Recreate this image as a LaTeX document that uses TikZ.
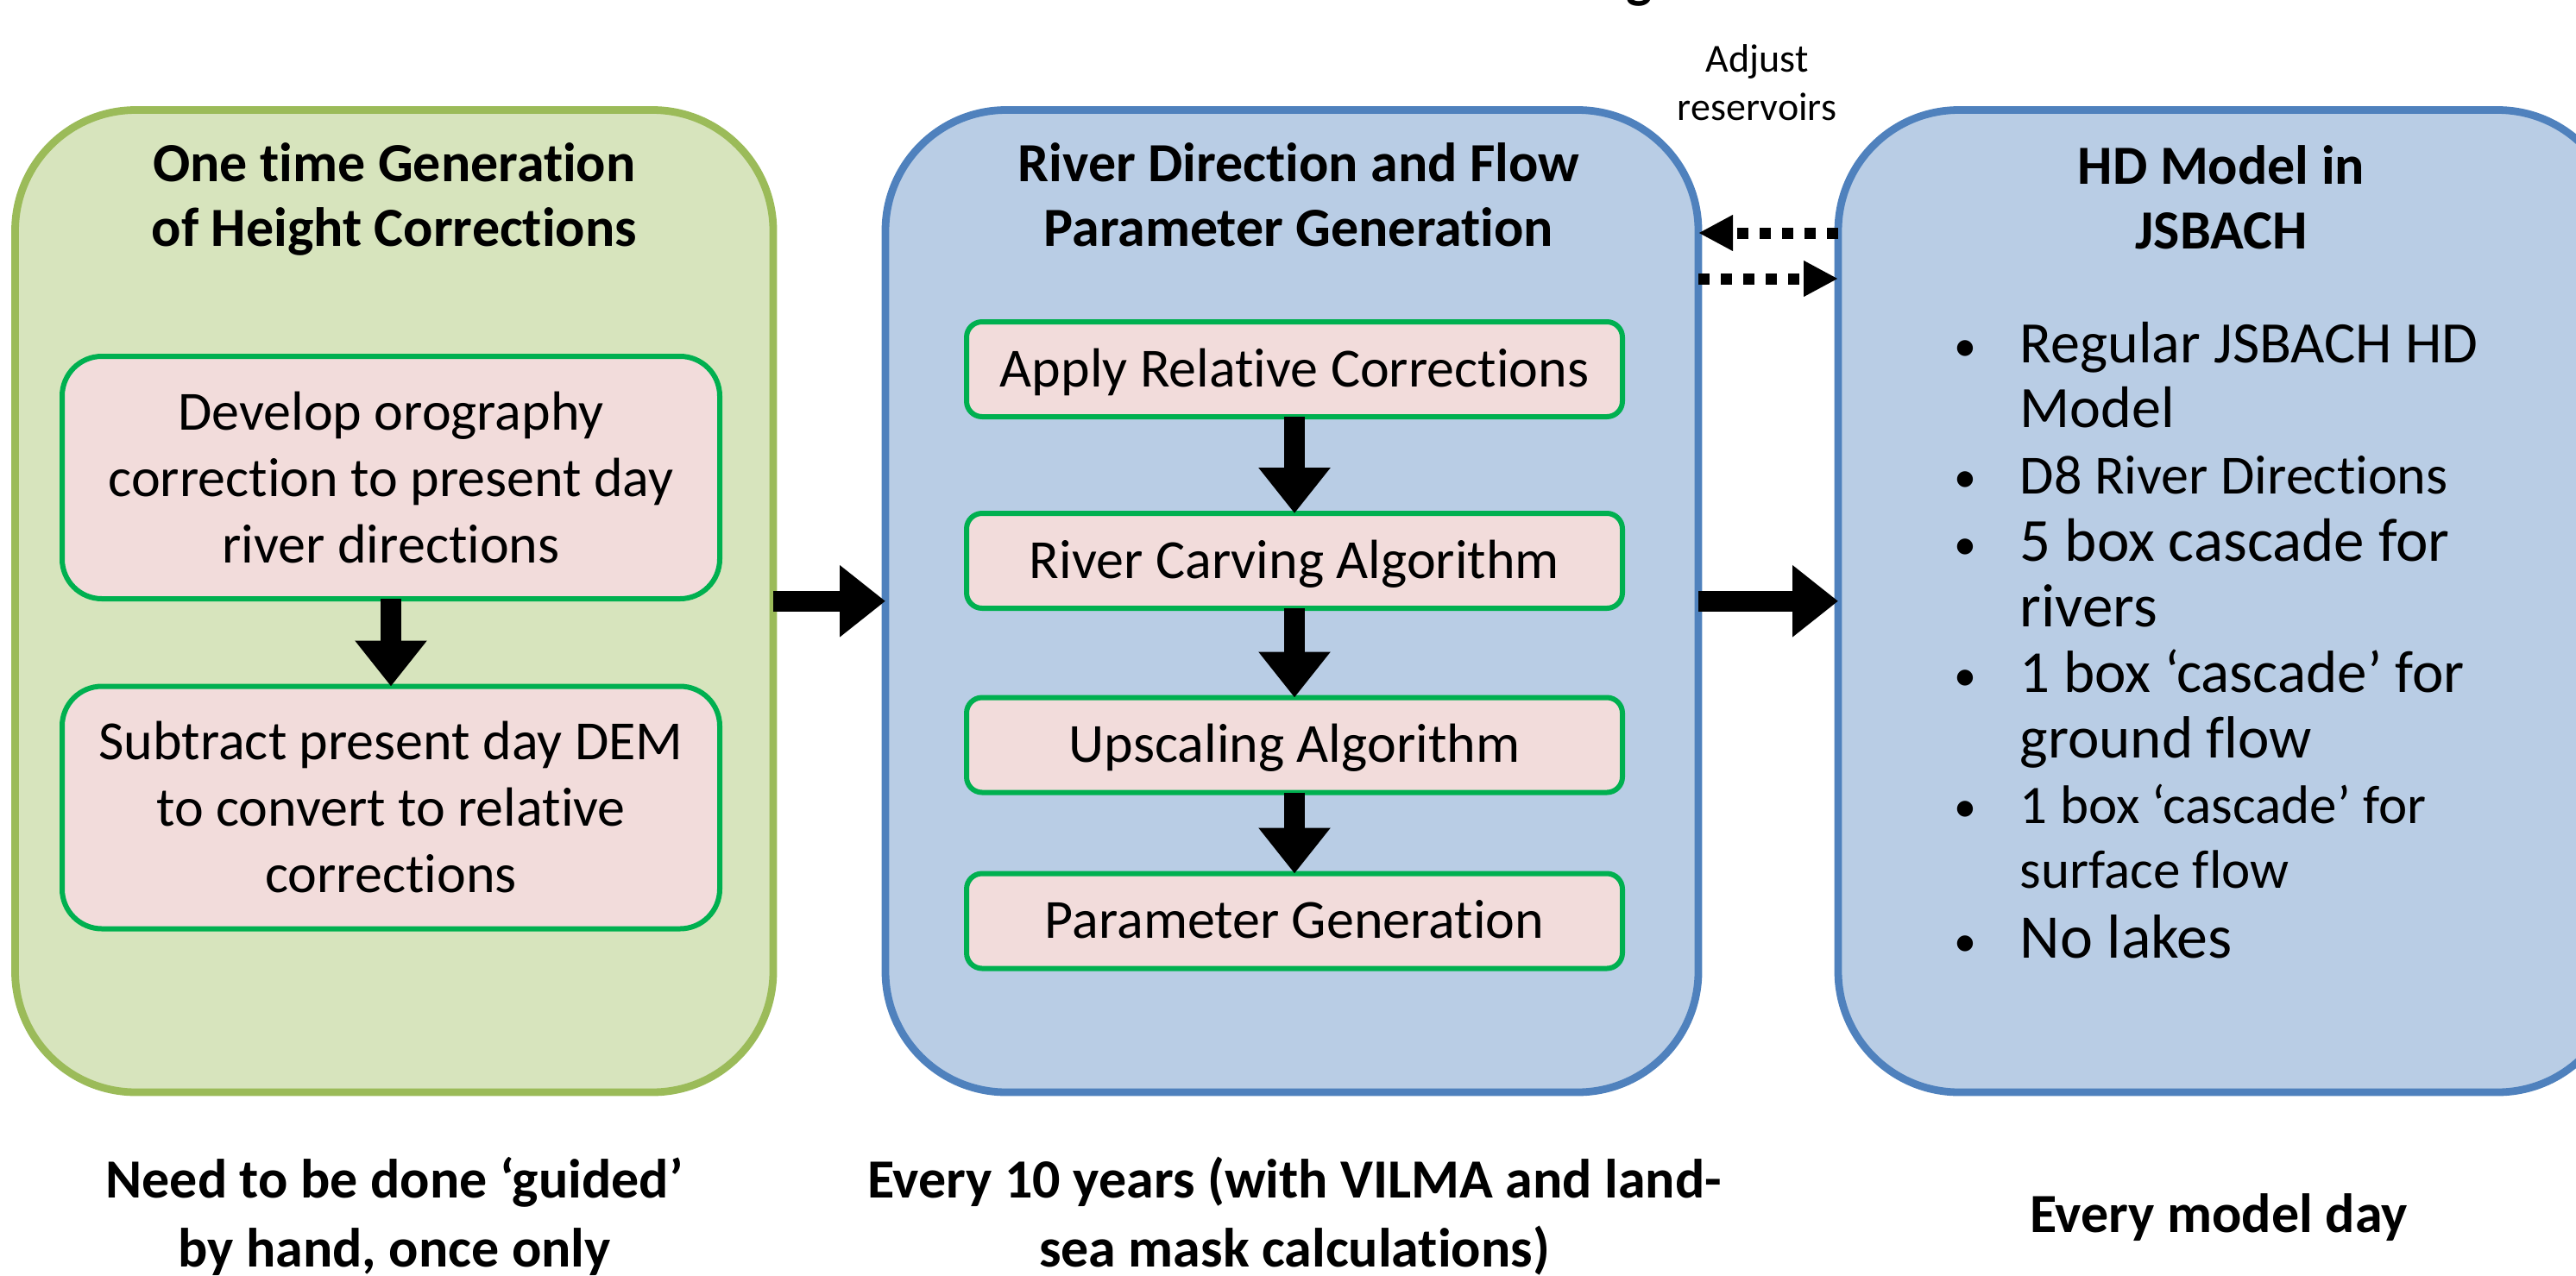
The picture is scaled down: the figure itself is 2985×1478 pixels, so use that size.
\documentclass[tikz,border=0pt]{standalone}
\usepackage{fontspec}
\setmainfont{Carlito}[Ligatures={TeX,NoCommon,NoRare},Contextuals={NoAlternate}]
\usetikzlibrary{arrows.meta}
\definecolor{grfill}{HTML}{D7E4BD}
\definecolor{grline}{HTML}{9BBB59}
\definecolor{blfill}{HTML}{B9CDE5}
\definecolor{blline}{HTML}{4F81BD}
\definecolor{pkfill}{HTML}{F2DCDB}
\definecolor{pkline}{HTML}{00B050}
\def\upx{0.25pt}
\newcommand\fsz[1]{\fontsize{#1pt}{#1pt}\selectfont}
\begin{document}
\begin{tikzpicture}[x=0.25pt,y=-0.25pt,
  outerbox/.style={draw, line width=2.2pt, inner sep=0pt, outer sep=0pt, rounded corners=35pt, minimum height={1138.5*\upx}},
  greenbox/.style={outerbox, draw=grline, fill=grfill},
  bluebox/.style={outerbox, draw=blline, fill=blfill},
  stepbox/.style={draw=pkline, fill=pkfill, line width=1.5pt, inner sep=0pt, outer sep=0pt},
  bigstep/.style={stepbox, rounded corners=11.5pt, minimum width={762*\upx}, minimum height={281*\upx}},
  smallstep/.style={stepbox, rounded corners=4.5pt, minimum width={760*\upx}, minimum height={110*\upx}},
  bigarrow/.style={line width=6pt, -{Triangle[width=20pt,length=13.25pt]}},
  dotarrow/.style={line width=3.25pt, dash pattern=on 3.25pt off 3.25pt, -{Triangle[width=9.75pt,length=10pt]}},
  txt/.style={anchor=base, inner sep=0pt, font=\fontsize{16pt}{19.25pt}\selectfont},
  ttl/.style={anchor=base, inner sep=0pt, font=\fontsize{16pt}{19.25pt}\selectfont\bfseries},
  blt/.style={anchor=base, inner sep=0pt, font=\fsz{13}},
  itm/.style={anchor=base west, inner sep=0pt},
]
\useasboundingbox (0,0) rectangle (2985,1478);
\clip (0,0) rectangle (2985,1478);

% partially visible glyph of a cut-off heading
\node[ttl] (cutg) at (1900,-4) {g};

% outer boxes
\node[greenbox, minimum width={878.5*\upx}] (L) at (456.75,696.75) {};
\node[bluebox, minimum width={942*\upx}] (M) at (1497,696.75) {};
\node[bluebox, minimum width={904*\upx}] (R) at (2582,696.75) {};

% titles
\node[ttl] (Lt1) at (457,210) {One time Generation};
\node[ttl] (Lt2) at (457,285) {of Height Corrections};
\node[ttl] (Mt1) at (1505,210) {River Direction and Flow};
\node[ttl] (Mt2) at (1505,285) {Parameter Generation};
\node[ttl] (Rt1) at (2574,213) {HD Model in};
\node[ttl] (Rt2) at (2574,288) {JSBACH};

% left steps
\node[bigstep] (L1) at (453,553.5) {};
\node[bigstep] (L2) at (453,936) {};
\node[txt] (L1a) at (453,498) {Develop orography};
\node[txt] (L1b) at (453,575) {correction to present day};
\node[txt] (L1c) at (453,652) {river directions};
\node[txt] (L2a) at (453,880) {Subtract present day DEM};
\node[txt] (L2b) at (453,957) {to convert to relative};
\node[txt] (L2c) at (453,1034) {corrections};
\draw[bigarrow] (L1.south) -- (L2.north);

% middle steps
\node[smallstep] (M1) at (1500,428) {};
\node[smallstep] (M2) at (1500,650) {};
\node[smallstep] (M3) at (1500,863.5) {};
\node[smallstep] (M4) at (1500,1067.5) {};
\node[txt] (M1t) at (1500,448) {Apply Relative Corrections};
\node[txt] (M2t) at (1500,670) {River Carving Algorithm};
\node[txt] (M3t) at (1500,883.5) {Upscaling Algorithm};
\node[txt] (M4t) at (1500,1087.5) {Parameter Generation};
\draw[bigarrow] (M1.south) -- (M2.north);
\draw[bigarrow] (M2.south) -- (M3.north);
\draw[bigarrow] (M3.south) -- (M4.north);

% right list
\node[blt] (B1) at (2277,418) {•};
\node[itm, font=\fsz{17}] (I1a) at (2340,420) {Regular JSBACH HD};
\node[itm, font=\fsz{17}] (I1b) at (2340,495) {Model};
\node[blt] (B2) at (2277,570) {•};
\node[itm, font=\fsz{16}] (I2a) at (2340,572) {D8 River Directions};
\node[blt] (B3) at (2277,648) {•};
\node[itm, font=\fsz{17.75}] (I3a) at (2340,650) {5 box cascade for};
\node[itm, font=\fsz{17.75}] (I3b) at (2340,726) {rivers};
\node[blt] (B4) at (2277,800) {•};
\node[itm, font=\fsz{17.25}] (I4a) at (2340,802) {1 box ‘cascade’ for};
\node[itm, font=\fsz{17.25}] (I4b) at (2340,878) {ground flow};
\node[blt] (B5) at (2277,952) {•};
\node[itm, font=\fsz{15.75}] (I5a) at (2340,954) {1 box ‘cascade’ for};
\node[itm, font=\fsz{15.75}] (I5b) at (2340,1029) {surface flow};
\node[blt] (B6) at (2277,1108) {•};
\node[itm, font=\fsz{18}] (I6a) at (2340,1110) {No lakes};

% connectors between stages
\draw[bigarrow] (L.east) -- (M.west);
\draw[bigarrow] (M.east) -- (R.west);
\coordinate (ya) at (0,270);
\coordinate (yb) at (0,323);
\draw[dotarrow] (R.west |- ya) -- (M.east |- ya);
\draw[dotarrow] (M.east |- yb) -- (R.west |- yb);
\node[anchor=base, inner sep=0pt, font=\fsz{11.5}] (adj1) at (2036,83) {Adjust};
\node[anchor=base, inner sep=0pt, font=\fsz{11.5}] (adj2) at (2036,139) {reservoirs};

% bottom captions
\node[ttl] (C1a) at (457,1388) {Need to be done ‘guided’};
\node[ttl] (C1b) at (457,1468) {by hand, once only};
\node[ttl] (C2a) at (1500,1388) {Every 10 years (with VILMA and land-};
\node[ttl] (C2b) at (1500,1468) {sea mask calculations)};
\node[ttl] (C3) at (2571,1428) {Every model day};
\end{tikzpicture}
\end{document}
